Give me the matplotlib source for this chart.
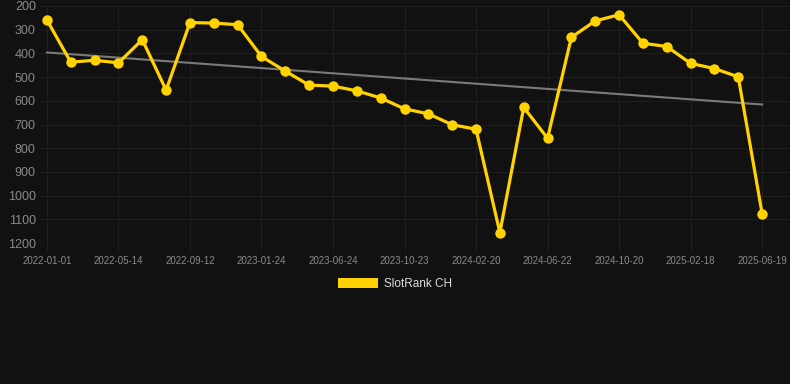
import numpy as np
import matplotlib
matplotlib.use("Agg")
import matplotlib.pyplot as plt
from matplotlib.patches import Patch

plt.rcParams['font.family'] = ['Liberation Sans', 'DejaVu Sans']

# rank values, one point per snapshot (evenly spaced on the chart)
ranks = [259, 437, 429, 440, 342, 555, 270, 272, 279, 413,
         475, 534, 538, 558, 588, 634, 655, 701, 720, 1156,
         628, 758, 332, 263, 237, 357, 371, 442, 464, 499, 1076]
tick_labels = ["2022-01-01", "2022-05-14", "2022-09-12", "2023-01-24",
               "2023-06-24", "2023-10-23", "2024-02-20", "2024-06-22",
               "2024-10-20", "2025-02-18", "2025-06-19"]
series_name = "SlotRank CH"

bg = "#111111"
x = np.arange(len(ranks))

fig = plt.figure(figsize=(7.9, 3.84), dpi=100, facecolor=bg)
ax = fig.add_axes([40 / 790, 1 - 243 / 384, 750 / 790, 237 / 384])
ax.set_facecolor(bg)

# trend line (least squares)
k, b = np.polyfit(x, ranks, 1)
ax.plot(x, k * x + b, color="#7a7a7a", lw=1.5, zorder=2)

ax.plot(x, ranks, color="#FFD200", lw=2.3, marker="o", ms=7.5,
        markerfacecolor="#FFD200", markeredgewidth=0, zorder=3)

ax.set_ylim(1200, 200)
ax.set_yticks(range(200, 1300, 100))
ax.set_xlim(-0.29, 31.17)
ax.set_xticks(x[::3])
ax.set_xticklabels(tick_labels)

ax.grid(True, color="#1f1f1f", lw=0.8)
for s in ax.spines.values():
    s.set_visible(False)
ax.tick_params(axis="y", length=0, pad=3, labelsize=9, labelcolor="#8a8a8a")
ax.tick_params(axis="x", length=6, color="#1f1f1f", pad=3, labelsize=7,
               labelcolor="#8a8a8a")

handle = Patch(facecolor="#FFD200", edgecolor="none")
fig.legend([handle], [series_name], loc="center", bbox_to_anchor=(0.5, 1 - 284 / 384),
           frameon=False, handlelength=3.4, handleheight=1.0, fontsize=8.5,
           labelcolor="#dddddd", handletextpad=0.5)

fig.savefig("out.png", dpi=100, facecolor=bg)
